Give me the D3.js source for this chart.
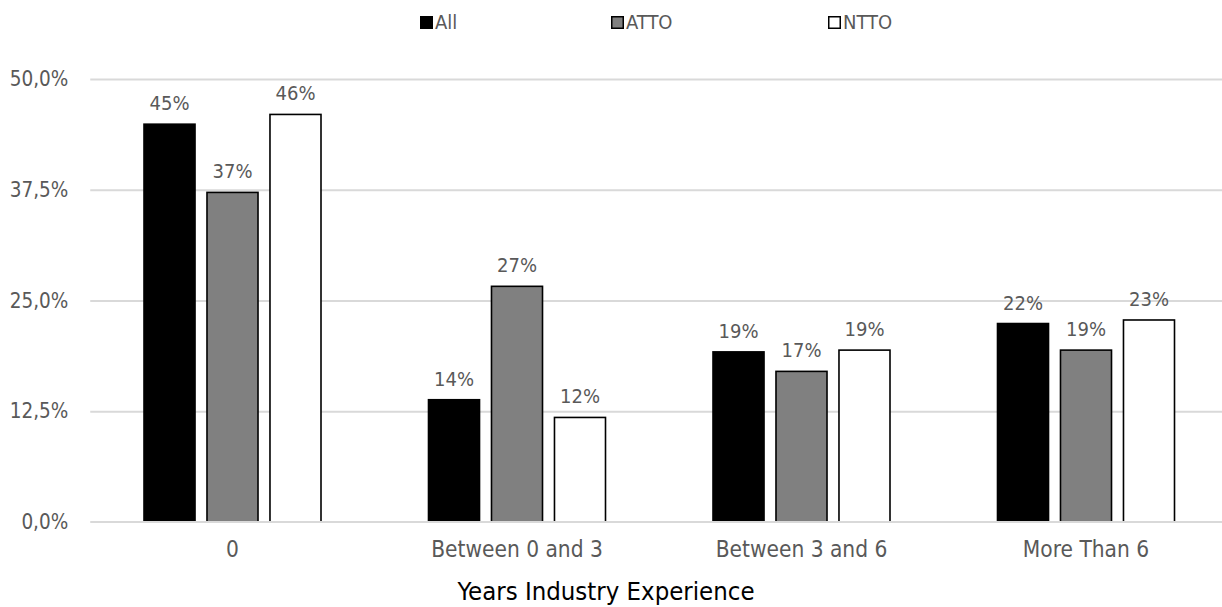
<!DOCTYPE html>
<html>
<head>
<meta charset="utf-8">
<script src="https://cdn.jsdelivr.net/npm/d3@7"></script>
<style>
  html, body { margin: 0; padding: 0; background: #fff; }
  svg { display: block; font-family: "DejaVu Sans Condensed", "DejaVu Sans", sans-serif; }
</style>
</head>
<body>
<svg id="chart" width="1222" height="607"></svg>
<script>
// Share of respondents by years of industry experience
const categories = ["0", "Between 0 and 3", "Between 3 and 6", "More Than 6"];
const seriesNames = ["All", "ATTO", "NTTO"];
const allValues  = [0.449, 0.138, 0.192, 0.224];
const attoValues = [0.372, 0.266, 0.170, 0.194];
const nttoValues = [0.460, 0.118, 0.194, 0.228];
const yTicks = [0, 0.125, 0.25, 0.375, 0.5];
const xTitle = "Years Industry Experience";

const seriesValues = { All: allValues, ATTO: attoValues, NTTO: nttoValues };
const fills = { All: "#000000", ATTO: "#808080", NTTO: "#ffffff" };
const textGray = "#595959";
const gridGray = "#d9d9d9";

const svg = d3.select("#chart");

const plotLeft = 90.25, plotRight = 1228.25;
const y = d3.scaleLinear().domain([0, 0.5]).range([522, 79]);
const x0 = d3.scaleBand().domain(categories).range([plotLeft, plotRight]).padding(0);
const groupMargin = 53.75;
const x1 = d3.scaleBand().domain(seriesNames)
  .range([groupMargin, x0.bandwidth() - groupMargin])
  .paddingInner(0.19).paddingOuter(0);

const pctTick = d => d3.format(".1%")(d).replace(".", ",");
const pctLabel = d3.format(".0%");

// Horizontal gridlines (the zero line is drawn later, over the bars)
const yAxis = d3.axisLeft(y).tickValues(yTicks).tickFormat(pctTick)
  .tickSize(-(plotRight - plotLeft)).tickPadding(22);
const gy = svg.append("g").attr("transform", `translate(${plotLeft},0)`).call(yAxis);
gy.select(".domain").remove();
gy.selectAll(".tick line").attr("stroke", gridGray).attr("stroke-width", 2)
  .filter(d => d === 0).remove();
gy.selectAll(".tick text").attr("fill", textGray).attr("font-size", 20.5)
  .attr("font-family", "DejaVu Sans Condensed, DejaVu Sans, sans-serif");

// Bars
const rows = categories.map((c, i) => ({
  category: c,
  values: seriesNames.map(s => ({ series: s, value: seriesValues[s][i] }))
}));

const groups = svg.append("g").selectAll("g").data(rows).join("g")
  .attr("transform", d => `translate(${x0(d.category)},0)`);

groups.selectAll("rect").data(d => d.values).join("rect")
  .attr("x", d => x1(d.series))
  .attr("y", d => y(d.value))
  .attr("width", x1.bandwidth())
  .attr("height", d => y(0) - y(d.value))
  .attr("fill", d => fills[d.series])
  .attr("stroke", "#000")
  .attr("stroke-width", 1.6);

groups.selectAll("text").data(d => d.values).join("text")
  .attr("x", d => x1(d.series) + x1.bandwidth() / 2)
  .attr("y", d => y(d.value) - 14)
  .attr("text-anchor", "middle")
  .attr("fill", textGray)
  .attr("font-size", 20)
  .text(d => pctLabel(d.value));

// Category axis: zero baseline and labels
svg.append("line")
  .attr("x1", plotLeft).attr("x2", plotRight)
  .attr("y1", y(0)).attr("y2", y(0))
  .attr("stroke", gridGray).attr("stroke-width", 2);

const xAxis = d3.axisBottom(x0).tickSize(0).tickPadding(19);
const gx = svg.append("g").attr("transform", `translate(0,${y(0)})`).call(xAxis);
gx.select(".domain").remove();
gx.selectAll(".tick text").attr("fill", textGray).attr("font-size", 22.5)
  .attr("font-family", "DejaVu Sans Condensed, DejaVu Sans, sans-serif");

// Axis title
svg.append("text")
  .attr("x", 606).attr("y", 600)
  .attr("text-anchor", "middle")
  .attr("fill", "#000")
  .attr("font-size", 25.5)
  .text(xTitle);

// Legend
const legendX = { All: 420, ATTO: 611, NTTO: 828 };
const legend = svg.append("g").selectAll("g").data(seriesNames).join("g")
  .attr("transform", d => `translate(${legendX[d]},16)`);
legend.append("rect")
  .attr("x", 0.75).attr("y", 0.75).attr("width", 11.5).attr("height", 11.5)
  .attr("fill", d => fills[d]).attr("stroke", "#000").attr("stroke-width", 1.5);
legend.append("text")
  .attr("x", 15).attr("y", 13)
  .attr("fill", textGray).attr("font-size", 20)
  .text(d => d);
</script>
</body>
</html>
